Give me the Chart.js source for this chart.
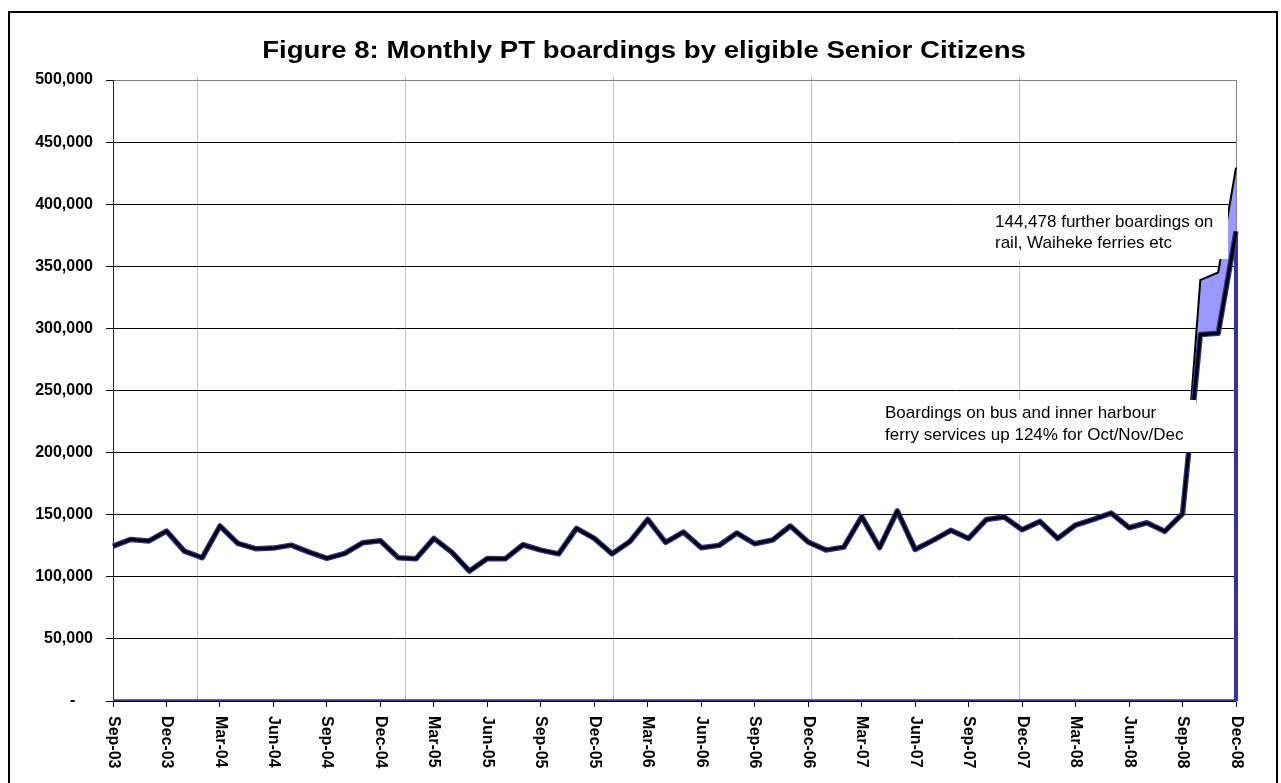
<!DOCTYPE html>
<html>
<head>
<meta charset="utf-8">
<script src="https://cdn.jsdelivr.net/npm/chart.js@4.4.1/dist/chart.umd.min.js"></script>
<style>
html,body{margin:0;padding:0;background:#fff;overflow:hidden}
#wrap{position:relative;width:1281px;height:783px}
</style>
</head>
<body>
<div id="wrap"><canvas id="c" width="1281" height="783"></canvas></div>
<script>
// ---- data ----
const titleText = 'Figure 8: Monthly PT boardings by eligible Senior Citizens';
const months = [
  'Sep-03','Oct-03','Nov-03','Dec-03',
  'Jan-04','Feb-04','Mar-04','Apr-04','May-04','Jun-04','Jul-04','Aug-04','Sep-04','Oct-04','Nov-04','Dec-04',
  'Jan-05','Feb-05','Mar-05','Apr-05','May-05','Jun-05','Jul-05','Aug-05','Sep-05','Oct-05','Nov-05','Dec-05',
  'Jan-06','Feb-06','Mar-06','Apr-06','May-06','Jun-06','Jul-06','Aug-06','Sep-06','Oct-06','Nov-06','Dec-06',
  'Jan-07','Feb-07','Mar-07','Apr-07','May-07','Jun-07','Jul-07','Aug-07','Sep-07','Oct-07','Nov-07','Dec-07',
  'Jan-08','Feb-08','Mar-08','Apr-08','May-08','Jun-08','Jul-08','Aug-08','Sep-08','Oct-08','Nov-08','Dec-08'
];
// boardings on bus and inner harbour ferry services
const busBoardings = [
  124700,130100,128800,136800,
  120700,115300,140900,126900,122600,123100,125500,119900,114800,118800,127400,129000,
  115300,114500,130900,119900,104600,114800,114500,125800,121500,118500,139000,130900,
  118500,128500,146200,127700,136000,123400,125300,135200,126600,129600,140900,128000,
  121500,123900,148400,123400,153000,122000,129300,137400,130900,146200,148100,137900,
  144600,130900,141700,146200,151300,139500,143500,136600,150800,295000,296000,378000
];
// further boardings on rail, Waiheke ferries etc (stacked on top)
const railFerryBoardings = [
  0,0,0,0,
  0,0,0,0,0,0,0,0,0,0,0,0,
  0,0,0,0,0,0,0,0,0,0,0,0,
  0,0,0,0,0,0,0,0,0,0,0,0,
  0,0,0,0,0,0,0,0,0,0,0,0,
  0,0,0,0,0,0,0,0,0,44000,49000,51500
];
const yTickValues = [0,50000,100000,150000,200000,250000,300000,350000,400000,450000,500000];
const noteRail = ['144,478 further boardings on', 'rail, Waiheke ferries etc'];
const noteBus = ['Boardings on bus and inner harbour', 'ferry services up 124% for Oct/Nov/Dec'];

// ---- styling / layout helpers ----
const FONT = '"Liberation Sans", Arial, sans-serif';
const vGridAt = [4.73, 16.4, 28.05, 39.2, 50.85]; // vertical gridline positions (in month units)

const totalBoardings = busBoardings.map((v, i) => v + railFerryBoardings[i]);
const last = months.length - 1;

const overlay = {
  id: 'overlay',
  afterDraw(chart) {
    const ctx = chart.ctx;
    const xs = chart.scales.x;
    ctx.save();
    // x tick labels, rotated clockwise
    ctx.font = 'bold 16px ' + FONT;
    ctx.fillStyle = '#000';
    ctx.textAlign = 'left';
    ctx.textBaseline = 'middle';
    months.forEach((m, i) => {
      if (i % 3) return;
      const x = xs.getPixelForValue(i);
      ctx.save();
      ctx.translate(x, xs.top + 15);
      ctx.rotate(Math.PI / 2);
      ctx.fillText(m, 0, 0);
      ctx.restore();
    });
    // title (slightly wide, as in the original)
    ctx.save();
    ctx.font = 'bold 24px ' + FONT;
    ctx.textAlign = 'center';
    ctx.textBaseline = 'alphabetic';
    ctx.translate(644, 58);
    ctx.scale(1.15, 1);
    ctx.fillText(titleText, 0, 0);
    ctx.restore();
    // annotation boxes
    ctx.font = '17px ' + FONT;
    ctx.textAlign = 'left';
    ctx.textBaseline = 'middle';
    ctx.fillStyle = '#fff';
    ctx.fillRect(988, 207, 240, 52);
    ctx.fillRect(876, 400, 320, 52);
    ctx.fillStyle = '#000';
    ctx.fillText(noteRail[0], 995, 222);
    ctx.fillText(noteRail[1], 995, 243);
    ctx.fillText(noteBus[0], 885, 413);
    ctx.fillText(noteBus[1], 885, 435);
    // outer chart frame
    ctx.lineWidth = 2;
    ctx.strokeStyle = '#000';
    ctx.strokeRect(9, 12, 1268, 800);
    ctx.restore();
  }
};

new Chart(document.getElementById('c'), {
  type: 'line',
  data: {
    labels: months,
    datasets: [
      { label: 'Bus outline', data: busBoardings, borderColor: '#000', borderWidth: 3,
        pointRadius: 0, fill: false, order: 1, tension: 0, borderJoinStyle: 'round' },
      { label: 'Bus and inner harbour ferry', data: busBoardings, borderColor: '#333399', borderWidth: 5.5,
        pointRadius: 0, fill: false, order: 2, tension: 0, borderJoinStyle: 'round' },
      { label: 'Rail, Waiheke ferries etc', data: totalBoardings, borderColor: '#000', borderWidth: 2,
        pointRadius: 0, fill: { target: 1 }, backgroundColor: '#9999FF', order: 3, tension: 0 },
      { label: 'base', data: [{ x: months[0], y: 0 }, { x: months[last], y: 0 }],
        borderColor: '#333399', borderWidth: 3.5, pointRadius: 0, fill: false, order: 4 },
      { label: 'edge', data: [{ x: months[last], y: 0 }, { x: months[last], y: busBoardings[last] }],
        borderColor: '#333399', borderWidth: 4, pointRadius: 0, fill: false, order: 4 }
    ]
  },
  options: {
    responsive: false,
    animation: false,
    devicePixelRatio: 1,
    layout: { padding: { top: 77, left: 0, right: 45, bottom: 0 } },
    plugins: { legend: { display: false }, title: { display: false }, tooltip: { enabled: false } },
    scales: {
      x: {
        type: 'category', position: 'bottom', offset: false,
        grid: { display: true, drawOnChartArea: false, color: 'rgba(0,0,0,0)',
                tickColor: c => (c.index % 3 === 0 ? '#000' : 'rgba(0,0,0,0)'), tickLength: 6 },
        border: { display: true, color: '#000', width: 1 },
        ticks: { autoSkip: false, maxRotation: 90, minRotation: 90, color: 'rgba(0,0,0,0)',
                 font: { family: FONT, size: 16, weight: 'bold' },
                 callback: (v, i) => (i % 3 === 0 ? months[i] : '') },
        afterFit: s => { s.height = 82; }
      },
      xg: {
        type: 'linear', position: 'top', min: 0, max: last,
        grid: { color: '#c0c0c0', tickLength: 3, lineWidth: 1 },
        border: { display: true, color: '#808080', width: 1 },
        ticks: { display: false },
        afterBuildTicks: s => { s.ticks = vGridAt.map(v => ({ value: v })); }
      },
      y: {
        position: 'left', min: 0, max: 500000,
        afterBuildTicks: s => { s.ticks = yTickValues.map(v => ({ value: v })); },
        ticks: { font: { family: FONT, size: 16, weight: 'bold' }, color: '#000', padding: 13,
                 callback: v => (v === 0 ? '-    ' : v.toLocaleString('en-US')) },
        grid: { color: c => (c.tick && c.tick.value === 500000 ? '#808080' : '#000'), tickColor: '#000', tickLength: 7 },
        border: { display: true, color: '#222', width: 1 },
        afterFit: s => { s.width = 113; }
      },
      y2: {
        position: 'right', min: 0, max: 1,
        grid: { display: false, drawTicks: false },
        ticks: { display: false },
        border: { display: true, color: '#808080', width: 1 }
      }
    }
  },
  plugins: [overlay]
});
</script>
</body>
</html>
